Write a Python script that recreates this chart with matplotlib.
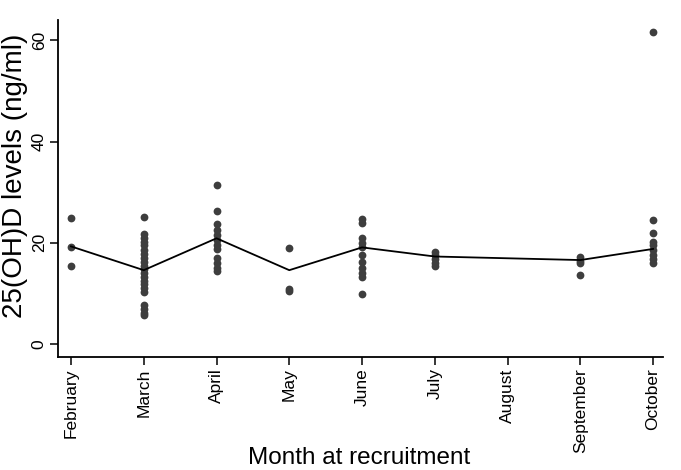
import numpy as np
import matplotlib
matplotlib.use("Agg")
import matplotlib.pyplot as plt

plt.rcParams['font.family'] = ['Liberation Sans', 'DejaVu Sans']

# months on the x axis (index = position)
months = ["February", "March", "April", "May", "June", "July",
          "August", "September", "October"]

# individual 25(OH)D values per month
feb = [24.9, 19.1, 15.4]
mar = [25.2, 21.7, 21.0, 20.2, 19.5, 18.6, 17.8, 17.0, 16.2, 15.5, 14.8,
       14.0, 13.3, 12.5, 11.8, 11.0, 10.3, 7.8, 7.0, 6.2, 5.8]
apr = [31.5, 26.3, 23.8, 22.5, 21.5, 20.5, 19.5, 18.8, 17.0, 16.0, 15.0, 14.5]
may = [18.9, 10.8, 10.5]
jun = [24.8, 24.0, 21.0, 20.0, 19.2, 17.5, 16.2, 15.0, 14.0, 13.3, 9.8]
jul = [18.2, 17.5, 16.8, 16.0, 15.5]
aug = []
sep = [17.3, 16.5, 16.0, 13.6]
octo = [61.7, 24.5, 22.0, 20.2, 19.5, 18.5, 17.5, 16.8, 16.0]

values = [feb, mar, apr, may, jun, jul, aug, sep, octo]

# mean line (August has no data, line skips it)
line_idx = [0, 1, 2, 3, 4, 5, 7, 8]
line_vals = [19.3, 14.6, 20.9, 14.6, 19.1, 17.3, 16.6, 18.8]

fig = plt.figure(figsize=(6.81, 4.70), dpi=100)
ax = fig.add_axes([0.085, 0.240, 0.889, 0.717])

for i, v in enumerate(values):
    if len(v) == 0:
        continue
    ax.plot([i] * len(v), v, linestyle='none', marker='o', markersize=5.6,
            color='#3e3e3e', markeredgewidth=0)

ax.plot(line_idx, line_vals, color='black', linewidth=1.3)

ax.set_xlim(-0.18, 8.14)
ax.set_ylim(-2.6, 64)
ax.set_xticks(range(len(months)))
ax.set_xticklabels(months, rotation=90, fontsize=12.5)
ax.set_yticks([0, 20, 40, 60])
ax.set_yticklabels(["0", "20", "40", "60"], rotation=90, va='center', fontsize=12.5)
ax.tick_params(axis='both', direction='out', length=6, width=1.1, color='black', pad=2)

ax.spines['top'].set_visible(False)
ax.spines['right'].set_visible(False)
ax.spines['left'].set_linewidth(1.3)
ax.spines['bottom'].set_linewidth(1.3)

ax.set_ylabel("25(OH)D levels (ng/ml)", fontsize=20, va='center')
ax.yaxis.set_label_coords(-0.071, 0.537)
ax.set_xlabel("Month at recruitment", fontsize=17.5, va='center')
ax.xaxis.set_label_coords(0.497, -0.30)

fig.savefig("out.png", dpi=100)
